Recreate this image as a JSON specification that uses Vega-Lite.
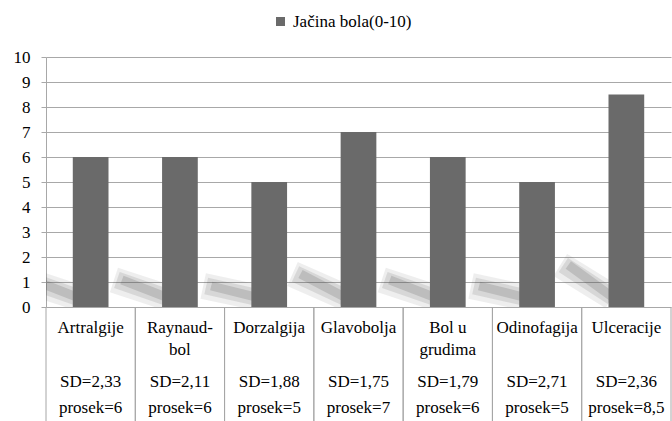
{
  "$schema": "https://vega.github.io/schema/vega-lite/v6.json",
  "width": 625,
  "height": 250,
  "autosize": {"type": "none"},
  "padding": {"left": 46, "top": 57, "right": 1, "bottom": 114},
  "background": "white",
  "config": {
    "font": "Liberation Serif",
    "view": {"stroke": null}
  },
  "data": {
    "values": [
      {"cat": "Artralgije", "l1": "Artralgije", "l2": "", "sd": "SD=2,33", "avg": "prosek=6", "value": 6},
      {"cat": "Raynaud-bol", "l1": "Raynaud-", "l2": "bol", "sd": "SD=2,11", "avg": "prosek=6", "value": 6},
      {"cat": "Dorzalgija", "l1": "Dorzalgija", "l2": "", "sd": "SD=1,88", "avg": "prosek=5", "value": 5},
      {"cat": "Glavobolja", "l1": "Glavobolja", "l2": "", "sd": "SD=1,75", "avg": "prosek=7", "value": 7},
      {"cat": "Bol u grudima", "l1": "Bol u", "l2": "grudima", "sd": "SD=1,79", "avg": "prosek=6", "value": 6},
      {"cat": "Odinofagija", "l1": "Odinofagija", "l2": "", "sd": "SD=2,71", "avg": "prosek=5", "value": 5},
      {"cat": "Ulceracije", "l1": "Ulceracije", "l2": "", "sd": "SD=2,36", "avg": "prosek=8,5", "value": 8.5}
    ]
  },
  "resolve": {"scale": {"y": "independent"}},
  "layer": [
    {
      "mark": {"type": "rule", "color": "#555555", "opacity": 0.1, "strokeWidth": 26, "xOffset": -14, "x2Offset": -66, "yOffset": -10, "y2Offset": 9, "clip": true},
      "encoding": {
        "x": {"field": "cat", "type": "nominal", "sort": null, "scale": {"paddingInner": 0, "paddingOuter": 0}, "axis": null},
        "x2": {"field": "cat", "type": "nominal"},
        "y": {"datum": 0, "type": "quantitative", "scale": {"domain": [0, 41.667], "nice": false}, "axis": null},
        "y2": {"field": "value", "type": "quantitative"}
      }
    },
    {
      "mark": {"type": "rule", "color": "#555555", "opacity": 0.15, "strokeWidth": 17, "xOffset": -14, "x2Offset": -63, "yOffset": -10, "y2Offset": 9, "clip": true},
      "encoding": {
        "x": {"field": "cat", "type": "nominal", "sort": null, "axis": null},
        "x2": {"field": "cat", "type": "nominal"},
        "y": {"datum": 0, "type": "quantitative", "scale": {"domain": [0, 41.667], "nice": false}, "axis": null},
        "y2": {"field": "value", "type": "quantitative"}
      }
    },
    {
      "mark": {"type": "rule", "color": "#555555", "opacity": 0.2, "strokeWidth": 9, "xOffset": -14, "x2Offset": -58, "yOffset": -10, "y2Offset": 9, "clip": true},
      "encoding": {
        "x": {"field": "cat", "type": "nominal", "sort": null, "axis": null},
        "x2": {"field": "cat", "type": "nominal"},
        "y": {"datum": 0, "type": "quantitative", "scale": {"domain": [0, 41.667], "nice": false}, "axis": null},
        "y2": {"field": "value", "type": "quantitative"}
      }
    },
    {
      "mark": {"type": "bar", "width": {"band": 0.4}},
      "encoding": {
        "x": {
          "field": "cat", "type": "nominal", "sort": null,
          "axis": {"title": null, "labels": false, "grid": false, "ticks": false, "domainColor": "#a6a6a6"}
        },
        "y": {
          "field": "value", "type": "quantitative",
          "scale": {"domain": [0, 10], "nice": false},
          "axis": {
            "title": null, "values": [0, 1, 2, 3, 4, 5, 6, 7, 8, 9, 10],
            "grid": true, "gridColor": "#a8a8a8", "domainColor": "#a8a8a8",
            "tickColor": "#a8a8a8", "tickSize": 5, "labelFontSize": 17,
            "labelColor": "#000000", "labelPadding": 11
          }
        },
        "color": {
          "datum": "Jačina bola(0-10)",
          "type": "nominal",
          "scale": {"range": ["#6a6a6a"]},
          "legend": {
            "title": null, "orient": "none", "legendX": 226, "legendY": -44,
            "symbolType": "square", "symbolSize": 81, "symbolStrokeWidth": 0,
            "labelFontSize": 17, "labelColor": "#000000",
            "labelOffset": 4, "padding": 0
          }
        }
      }
    },
    {
      "mark": {"type": "rule", "color": "#a6a6a6", "strokeWidth": 1, "y2Offset": 114},
      "encoding": {
        "x": {"field": "cat", "type": "nominal", "sort": null, "bandPosition": 0, "axis": null},
        "y": {"datum": 0, "type": "quantitative", "scale": {"domain": [0, 10], "nice": false}, "axis": null},
        "y2": {"datum": 0}
      }
    },
    {
      "mark": {"type": "rule", "color": "#a6a6a6", "strokeWidth": 1, "y2Offset": 114},
      "encoding": {
        "x": {"field": "cat", "type": "nominal", "sort": null, "bandPosition": 1, "axis": null},
        "y": {"datum": 0, "type": "quantitative", "scale": {"domain": [0, 10], "nice": false}, "axis": null},
        "y2": {"datum": 0}
      }
    },
    {
      "mark": {"type": "text", "fontSize": 17, "baseline": "alphabetic", "yOffset": 26, "color": "#000000"},
      "encoding": {
        "x": {"field": "cat", "type": "nominal", "sort": null, "axis": null},
        "y": {"datum": 0, "type": "quantitative", "scale": {"domain": [0, 10], "nice": false}, "axis": null},
        "text": {"field": "l1"}
      }
    },
    {
      "mark": {"type": "text", "fontSize": 17, "baseline": "alphabetic", "yOffset": 48, "color": "#000000"},
      "encoding": {
        "x": {"field": "cat", "type": "nominal", "sort": null, "axis": null},
        "y": {"datum": 0, "type": "quantitative", "scale": {"domain": [0, 10], "nice": false}, "axis": null},
        "text": {"field": "l2"}
      }
    },
    {
      "mark": {"type": "text", "fontSize": 17, "baseline": "alphabetic", "yOffset": 80, "color": "#000000"},
      "encoding": {
        "x": {"field": "cat", "type": "nominal", "sort": null, "axis": null},
        "y": {"datum": 0, "type": "quantitative", "scale": {"domain": [0, 10], "nice": false}, "axis": null},
        "text": {"field": "sd"}
      }
    },
    {
      "mark": {"type": "text", "fontSize": 17, "baseline": "alphabetic", "yOffset": 106, "color": "#000000"},
      "encoding": {
        "x": {"field": "cat", "type": "nominal", "sort": null, "axis": null},
        "y": {"datum": 0, "type": "quantitative", "scale": {"domain": [0, 10], "nice": false}, "axis": null},
        "text": {"field": "avg"}
      }
    }
  ]
}
